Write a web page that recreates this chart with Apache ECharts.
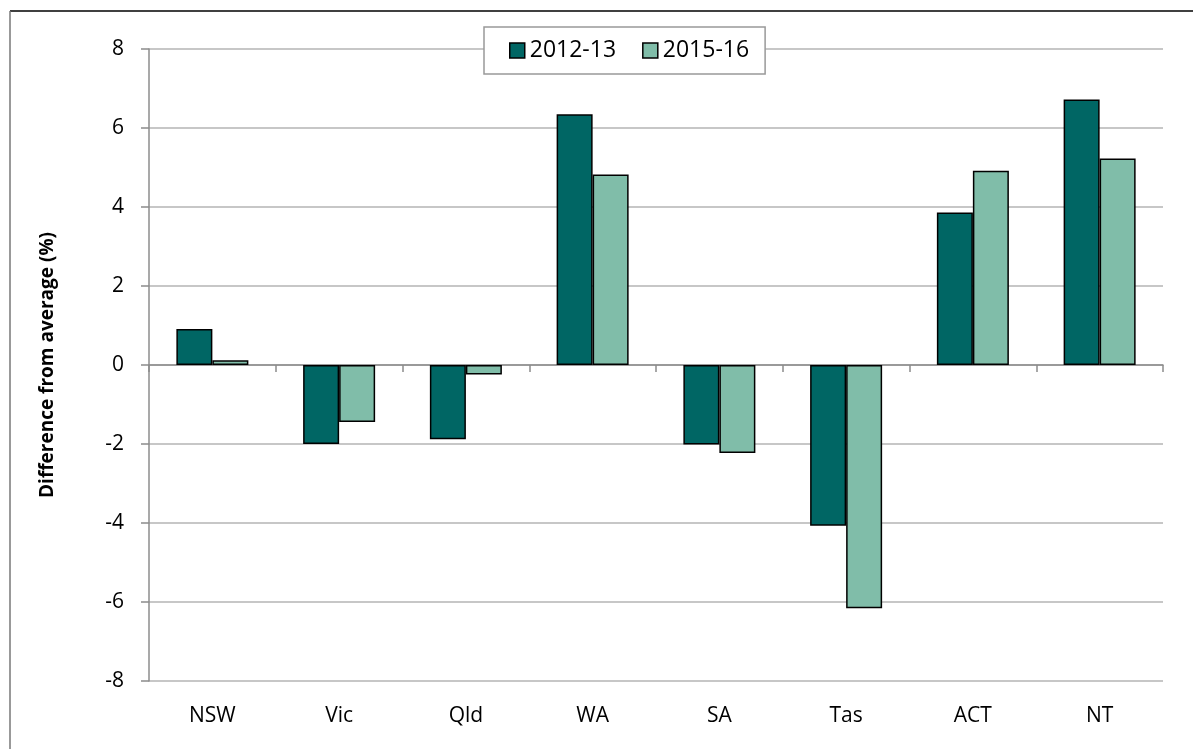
<!DOCTYPE html>
<html>
<head>
<meta charset="utf-8">
<script src="https://cdn.jsdelivr.net/npm/echarts@6/dist/echarts.min.js"></script>
<style>
  html, body { margin: 0; padding: 0; background: #fff; }
  #chart { width: 1193px; height: 749px; }
</style>
</head>
<body>
<div id="chart"></div>
<script>
// 数据
var states = ['NSW', 'Vic', 'Qld', 'WA', 'SA', 'Tas', 'ACT', 'NT']
var y2012 = [0.91, -2.0, -1.88, 6.35, -2.01, -4.07, 3.86, 6.72]
var y2015 = [0.12, -1.44, -0.24, 4.82, -2.23, -6.16, 4.92, 5.23]
var seriesNames = ['2012-13', '2015-16']
var yTicks = [-8, -6, -4, -2, 0, 2, 4, 6, 8]

var font = '"Open Sans", "Noto Sans", sans-serif'
var myChart = echarts.init(document.getElementById('chart'))

var option = {
  animation: false,
  textStyle: { fontFamily: font },
  // 外框
  graphic: [
    { type: 'line', shape: { x1: 10, y1: 11, x2: 1193, y2: 11 }, style: { stroke: '#000', lineWidth: 1.5 } },
    { type: 'line', shape: { x1: 10, y1: 11, x2: 10, y2: 749 }, style: { stroke: '#777', lineWidth: 1.5 } }
  ],
  grid: { left: 149, right: 30, top: 49, bottom: 68, containLabel: false },
  legend: {
    top: 27,
    left: 484,
    padding: [12, 16, 12, 25],
    itemGap: 26,
    itemWidth: 15,
    itemHeight: 15,
    backgroundColor: '#fff',
    borderColor: '#999',
    borderWidth: 1.5,
    textStyle: { fontSize: 23, color: '#000', fontFamily: font },
    data: seriesNames.map(function (n) {
      return { name: n, icon: 'rect', itemStyle: { borderColor: '#000', borderWidth: 1.5 } }
    })
  },
  xAxis: [
    {
      type: 'category',
      data: states,
      axisLine: { onZero: true, lineStyle: { color: '#8c8c8c', width: 1.5 } },
      axisTick: { show: true, length: 7, lineStyle: { color: '#8c8c8c', width: 1.5 } },
      axisLabel: { show: false }
    },
    {
      type: 'category',
      data: states,
      position: 'bottom',
      axisLine: { show: false, onZero: false },
      axisTick: { show: false },
      axisLabel: { margin: 25, fontSize: 21, color: '#000', fontFamily: font }
    }
  ],
  yAxis: {
    type: 'value',
    min: yTicks[0],
    max: yTicks[yTicks.length - 1],
    interval: 2,
    name: 'Difference from average (%)',
    nameLocation: 'middle',
    nameGap: 92,
    nameTextStyle: { fontSize: 19, fontWeight: 'bold', color: '#000', fontFamily: font },
    axisLine: { show: true, lineStyle: { color: '#8c8c8c', width: 1.5 } },
    axisTick: { show: true, length: 8, lineStyle: { color: '#8c8c8c', width: 1.5 } },
    axisLabel: { margin: 25, fontSize: 21, color: '#000', fontFamily: font },
    splitLine: { lineStyle: { color: '#b4b4b4', width: 1.5 } }
  },
  series: [
    {
      name: seriesNames[0],
      type: 'bar',
      data: y2012,
      barWidth: 36,
      barGap: '0%',
      itemStyle: { color: '#006664', borderColor: '#000', borderWidth: 1.5 }
    },
    {
      name: seriesNames[1],
      type: 'bar',
      data: y2015,
      barWidth: 36,
      barGap: '0%',
      itemStyle: { color: '#80bda9', borderColor: '#000', borderWidth: 1.5 }
    }
  ]
}

myChart.setOption(option)
</script>
</body>
</html>
